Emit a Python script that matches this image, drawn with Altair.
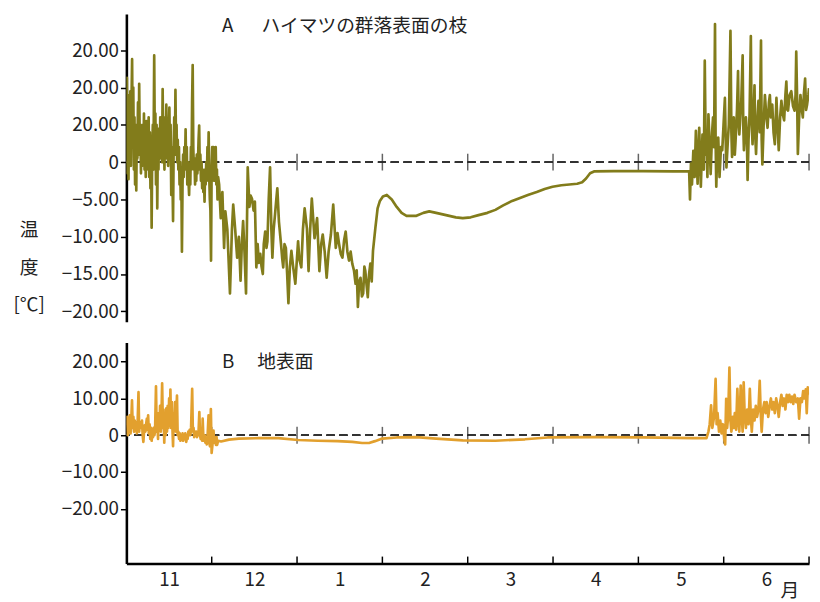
import altair as alt
import pandas as pd

FONT = "Noto Sans CJK JP"

# ---- categories / labels ----
months = ["11", "12", "1", "2", "3", "4", "5", "6"]
month_centers = [0.5, 1.5, 2.5, 3.5, 4.5, 5.5, 6.5, 7.5]
month_bounds = [1, 2, 3, 4, 5, 6, 7, 8]
panel_titles = ["A\u3000\u2002ハイマツの群落表面の枝", "B\u3000 地表面"]
y_title = ["温", "度", "[℃]"]
x_title = "月"

top_ticks = [15, 10, 5, 0, -5, -10, -15, -20]
top_labels = ["20.00", "20.00", "20.00", "0", "−5.00", "−10.00", "−15.00", "−20.00"]
bot_ticks = [20, 10, 0, -10, -20]
bot_labels = ["20.00", "10.00", "0", "−10.00", "−20.00"]

# ---- series: (month position since 1 Nov, temperature °C) ----
branch_nov = [
    (0.000, 3.0), (0.006, 11.3), (0.012, -1.5), (0.018, 9.0), (0.025, -2.3), (0.032, 7.0), (0.039, 1.0),
    (0.046, 9.5), (0.053, -0.5), (0.060, 8.0), (0.067, 13.8), (0.074, 2.0), (0.081, 10.0), (0.088, -1.0),
    (0.095, 6.0), (0.102, -3.0), (0.109, 4.0), (0.116, -3.8), (0.123, 5.0), (0.129, 0.5), (0.136, 8.0),
    (0.143, 1.0), (0.150, 10.5), (0.157, 2.0), (0.164, 5.0), (0.171, -1.5), (0.178, 3.5), (0.185, -0.5),
    (0.192, 5.0), (0.199, 0.0), (0.206, 6.5), (0.213, -1.0), (0.220, 4.0), (0.227, -2.0), (0.234, 5.5),
    (0.240, -1.0), (0.247, 3.0), (0.254, 0.0), (0.261, 6.0), (0.268, -2.0), (0.275, 4.0), (0.282, -3.5),
    (0.289, 3.0), (0.296, -8.8), (0.303, 2.0), (0.310, 5.0), (0.317, -1.0), (0.326, 14.3), (0.333, 3.0),
    (0.340, 6.5), (0.347, -3.0), (0.354, 5.0), (0.362, -6.2), (0.369, 3.0), (0.376, -1.0), (0.383, 4.5),
    (0.390, 0.5), (0.397, 6.0), (0.403, 1.0), (0.410, 5.0), (0.418, 0.0), (0.425, 9.8), (0.432, 2.0),
    (0.439, 6.0), (0.446, -1.0), (0.453, 5.0), (0.460, 0.5), (0.468, 7.7), (0.475, 1.0), (0.482, 5.5),
    (0.489, -0.5), (0.497, 4.0), (0.504, 7.3), (0.511, 1.0), (0.518, 5.0), (0.526, -4.4), (0.533, 2.0),
    (0.540, -2.0), (0.547, -7.9), (0.554, 2.0), (0.561, 6.0), (0.568, 1.0), (0.575, 9.7), (0.582, 2.0),
    (0.588, 5.0), (0.595, 0.0), (0.602, 3.0), (0.609, -1.0), (0.616, 2.0), (0.623, -3.0), (0.630, 0.0),
    (0.637, -5.0), (0.644, -2.0), (0.651, -12.0), (0.658, -3.0), (0.665, 1.0), (0.672, -2.0), (0.679, 2.0),
    (0.686, -1.0), (0.694, 4.4), (0.701, -1.0), (0.708, 2.0), (0.714, -3.0), (0.721, 0.0), (0.728, -2.5),
    (0.735, -4.4), (0.742, -1.0), (0.749, -3.0), (0.756, 2.0), (0.763, -1.0), (0.770, 8.0), (0.777, 13.0),
    (0.784, 2.0), (0.791, -1.0), (0.798, 0.5), (0.805, -3.0), (0.812, -1.0), (0.819, -2.5), (0.825, 1.0),
    (0.832, -1.5), (0.839, 0.0), (0.846, 3.0), (0.853, 4.9), (0.860, -1.0), (0.867, 1.0), (0.874, -2.5),
    (0.881, 0.0), (0.888, -3.5), (0.895, -1.0), (0.902, -4.0), (0.909, -2.0), (0.916, -5.3), (0.923, -1.0),
    (0.929, -3.0), (0.936, 0.0), (0.943, -2.5), (0.950, 2.0), (0.957, -1.5), (0.964, 4.0), (0.971, -2.0),
    (0.978, -5.0), (0.985, -6.5), (0.992, -13.2), (0.999, -1.0), (1.006, 2.0), (1.013, 0.0), (1.020, 2.0),
    (1.027, -2.5), (1.034, 1.0), (1.040, -1.5), (1.047, 2.0), (1.054, -3.0), (1.061, -1.0), (1.068, -5.0),
    (1.075, -2.0),
]
branch_dec_jan = [
    (1.087, -3.0), (1.106, -7.5), (1.125, -4.0), (1.145, -11.5), (1.160, -6.6), (1.183, -9.0), (1.214, -17.6),
    (1.237, -9.0), (1.252, -5.7), (1.275, -9.0), (1.298, -12.8), (1.318, -10.0), (1.338, -15.9), (1.353, -11.0),
    (1.368, -7.9), (1.384, -12.0), (1.402, -17.6), (1.422, -0.7), (1.442, -6.0), (1.457, -4.5), (1.472, -4.9),
    (1.491, -6.5), (1.506, -5.3), (1.523, -14.1), (1.538, -11.0), (1.553, -13.5), (1.569, -12.3), (1.584, -14.0),
    (1.599, -15.0), (1.610, -11.0), (1.627, -9.3), (1.642, -11.5), (1.653, -10.6), (1.668, -5.0), (1.684, -0.7),
    (1.699, -9.0), (1.711, -12.8), (1.726, -9.0), (1.742, -7.0), (1.757, -5.0), (1.769, -3.5), (1.788, -8.0),
    (1.812, -11.0), (1.827, -13.0), (1.838, -14.1), (1.853, -11.0), (1.869, -11.5), (1.884, -15.0), (1.899, -18.9),
    (1.916, -14.0), (1.934, -11.9), (1.954, -14.0), (1.980, -16.3), (2.012, -10.6), (2.027, -13.0), (2.050, -14.1),
    (2.069, -9.0), (2.089, -6.2), (2.116, -8.9), (2.135, -14.6), (2.154, -9.0), (2.173, -4.9), (2.205, -10.2),
    (2.235, -7.5), (2.262, -14.6), (2.283, -11.0), (2.301, -9.7), (2.324, -12.0), (2.347, -15.5), (2.370, -12.0),
    (2.397, -9.7), (2.424, -5.7), (2.454, -11.5), (2.474, -9.5), (2.493, -11.0), (2.512, -12.3), (2.532, -12.8),
    (2.551, -10.5), (2.570, -9.3), (2.590, -12.0), (2.609, -13.2), (2.628, -12.0), (2.647, -13.6), (2.667, -14.5),
    (2.686, -16.3), (2.699, -14.5), (2.713, -19.4), (2.728, -16.0), (2.744, -15.5), (2.760, -18.0), (2.775, -17.6),
    (2.789, -14.0), (2.800, -14.6), (2.815, -16.5), (2.829, -18.1), (2.844, -15.0), (2.859, -13.6), (2.875, -16.0),
    (2.890, -11.9), (2.917, -8.9), (2.944, -6.2), (2.971, -5.2),
]
branch_feb_may = [
    (3.006, -4.6), (3.052, -4.4), (3.110, -5.0), (3.168, -6.0), (3.225, -6.8), (3.283, -7.2), (3.399, -7.2),
    (3.480, -6.8), (3.549, -6.6), (3.630, -6.8), (3.746, -7.1), (3.861, -7.4), (3.942, -7.5), (4.035, -7.4),
    (4.127, -7.1), (4.231, -6.8), (4.324, -6.4), (4.416, -5.8), (4.520, -5.2), (4.613, -4.8), (4.705, -4.4),
    (4.809, -4.0), (4.902, -3.6), (4.994, -3.3), (5.098, -3.1), (5.191, -3.0), (5.283, -2.9), (5.341, -2.7),
    (5.387, -2.2), (5.434, -1.5), (5.480, -1.25), (5.711, -1.2), (6.058, -1.2), (6.405, -1.25), (6.595, -1.25),
]
branch_jun = [
    (6.605, -5.0), (6.616, -0.2), (6.628, -3.0), (6.644, 1.5), (6.659, -2.0), (6.674, 4.2), (6.694, -2.9),
    (6.713, 4.6), (6.732, -3.3), (6.751, 3.7), (6.767, -1.0), (6.778, 13.6), (6.790, 1.0), (6.798, 3.5),
    (6.809, -2.0), (6.821, 6.4), (6.836, 2.0), (6.847, -1.6), (6.864, 4.0), (6.875, 6.0), (6.887, 2.0),
    (6.898, 18.5), (6.905, 3.0), (6.913, -3.3), (6.925, 2.0), (6.936, 3.3), (6.951, -2.0), (6.968, 2.0),
    (6.983, 1.6), (6.998, 5.0), (7.014, 8.6), (7.025, 2.0), (7.032, -0.7), (7.049, 3.0), (7.060, 5.0),
    (7.079, 17.6), (7.090, 4.0), (7.098, 0.7), (7.110, 5.0), (7.118, 6.0), (7.130, 1.0), (7.137, 2.4),
    (7.156, 7.0), (7.168, 12.2), (7.176, 5.0), (7.183, 3.7), (7.194, 6.0), (7.206, 8.2), (7.222, 14.3),
    (7.229, 5.0), (7.237, 1.6), (7.249, 4.0), (7.260, 6.0), (7.272, 3.0), (7.280, -2.4), (7.291, 3.0),
    (7.303, 6.4), (7.318, 16.9), (7.326, 6.0), (7.338, 2.4), (7.349, 6.0), (7.361, 10.3), (7.368, 4.0),
    (7.379, 1.1), (7.391, 5.0), (7.407, 8.2), (7.422, 4.0), (7.437, 16.3), (7.445, 3.0), (7.453, -0.3),
    (7.468, 5.0), (7.483, 9.0), (7.500, 6.0), (7.514, 4.6), (7.530, 8.0), (7.541, 9.0), (7.553, 6.0),
    (7.569, 7.7), (7.584, 4.0), (7.599, 2.4), (7.618, 8.6), (7.630, 5.0), (7.645, 1.6), (7.661, 6.0),
    (7.676, 8.2), (7.691, 6.5), (7.708, 5.6), (7.723, 9.0), (7.734, 10.8), (7.746, 7.0), (7.754, 6.9),
    (7.772, 9.0), (7.792, 9.5), (7.812, 7.5), (7.830, 6.9), (7.842, 9.0), (7.850, 14.8), (7.861, 8.0),
    (7.869, 1.1), (7.884, 6.0), (7.899, 9.0), (7.916, 7.0), (7.927, 6.0), (7.939, 9.0), (7.954, 11.2),
    (7.965, 7.0), (7.977, 7.7), (7.992, 9.0), (8.000, 9.9),
]

ground_nov = [
    (0.000, 3.0), (0.008, 5.0), (0.016, 0.0), (0.024, 4.5), (0.032, 1.0), (0.040, 5.4), (0.049, 0.5),
    (0.057, 4.0), (0.066, 9.5), (0.074, 2.0), (0.082, 5.0), (0.090, 1.0), (0.098, 4.0), (0.106, 2.0),
    (0.114, 3.5), (0.123, 0.5), (0.130, 2.0), (0.142, 11.7), (0.150, 1.0), (0.158, 3.0), (0.166, 3.5),
    (0.175, 2.0), (0.183, 4.0), (0.191, 0.0), (0.199, -1.8), (0.207, 1.0), (0.215, 2.7), (0.223, 1.0),
    (0.231, 3.0), (0.240, 4.5), (0.247, 1.5), (0.255, 5.4), (0.263, 0.5), (0.272, 3.0), (0.280, -1.0),
    (0.288, 2.0), (0.296, -1.5), (0.304, 0.5), (0.312, -0.5), (0.320, 2.0), (0.328, 0.0), (0.336, 1.0),
    (0.347, 13.3), (0.355, 1.0), (0.363, 4.0), (0.371, -1.0), (0.379, 6.0), (0.387, 2.0), (0.395, 8.0),
    (0.403, 1.0), (0.411, 5.0), (0.419, 14.1), (0.428, 2.0), (0.435, 7.0), (0.444, -2.0), (0.452, 6.0),
    (0.460, 0.0), (0.468, 7.3), (0.476, 1.0), (0.484, 8.0), (0.492, 2.0), (0.501, 10.0), (0.509, 3.0),
    (0.516, 12.4), (0.524, 2.0), (0.533, 9.0), (0.541, 1.0), (0.547, -3.0), (0.555, 6.0), (0.563, 2.0),
    (0.571, 9.0), (0.579, 1.0), (0.587, 7.0), (0.593, 10.8), (0.601, 0.0), (0.609, 1.0), (0.617, -1.0),
    (0.625, 0.5), (0.634, -1.5), (0.642, 0.0), (0.650, -1.0), (0.658, 0.5), (0.666, -1.5), (0.674, 0.0),
    (0.682, -1.0), (0.690, 0.5), (0.702, -1.8), (0.710, 0.0), (0.718, -1.0), (0.726, 1.0), (0.734, 0.0),
    (0.742, 1.5), (0.750, 0.0), (0.758, 2.0), (0.771, 12.6), (0.779, 1.0), (0.787, 2.0), (0.795, -0.5),
    (0.803, 1.0), (0.812, 0.0), (0.820, 1.0), (0.828, -0.5), (0.836, 0.5), (0.844, 0.0), (0.855, 6.3),
    (0.863, 0.0), (0.871, -1.0), (0.879, 0.0), (0.888, -1.5), (0.894, 4.5), (0.902, -0.5), (0.910, -1.5),
    (0.918, 0.0), (0.926, -2.0), (0.934, -1.0), (0.942, -2.5), (0.950, -1.0), (0.963, 5.4), (0.971, -2.0),
    (0.979, -3.0), (0.990, 7.1), (0.999, -4.8), (1.007, -3.0), (1.015, -1.0), (1.021, 1.3), (1.029, -2.0),
    (1.037, -0.5), (1.049, -2.6), (1.057, -0.5), (1.064, -2.6), (1.075, -1.5),
]
ground_winter = [
    (1.110, -1.7), (1.202, -1.2), (1.318, -0.9), (1.549, -0.8), (1.780, -0.8), (2.012, -1.3), (2.243, -1.5),
    (2.474, -1.6), (2.647, -1.8), (2.763, -2.1), (2.844, -2.1), (2.913, -1.6), (3.000, -0.9), (3.168, -0.6),
    (3.399, -0.5), (3.630, -0.9), (3.942, -1.4), (4.324, -1.5), (4.671, -1.1), (4.936, -0.6), (5.480, -0.5),
    (6.058, -0.6), (6.636, -0.8), (6.798, -0.8),
]
ground_jun = [
    (6.821, 1.0), (6.836, 3.0), (6.852, 8.1), (6.867, 2.0), (6.887, 5.0), (6.905, 15.3), (6.917, 3.0),
    (6.928, 6.0), (6.945, 1.0), (6.960, 4.0), (6.975, 0.5), (6.991, 3.0), (7.006, -1.0), (7.017, -2.5),
    (7.029, 9.9), (7.040, 2.0), (7.052, 5.0), (7.067, 18.4), (7.079, 4.0), (7.090, 1.0), (7.106, 5.0),
    (7.118, 2.0), (7.130, 6.0), (7.145, 1.5), (7.160, 12.6), (7.172, 4.0), (7.183, 1.0), (7.199, 13.5),
    (7.211, 5.0), (7.222, 1.0), (7.234, 14.4), (7.245, 6.0), (7.260, 2.0), (7.275, 7.0), (7.291, 3.0),
    (7.306, 12.6), (7.318, 5.0), (7.329, 1.0), (7.345, 7.0), (7.361, 4.0), (7.376, 8.0), (7.391, 5.0),
    (7.407, 7.0), (7.422, 14.8), (7.434, 6.0), (7.445, 1.0), (7.460, 7.0), (7.476, 9.0), (7.491, 6.0),
    (7.503, 9.0), (7.522, 5.0), (7.538, 8.0), (7.553, 10.0), (7.569, 7.0), (7.584, 9.0), (7.599, 6.0),
    (7.615, 10.0), (7.630, 8.0), (7.645, 5.0), (7.661, 9.0), (7.676, 11.0), (7.691, 8.0), (7.708, 10.0),
    (7.723, 7.0), (7.738, 11.0), (7.754, 9.0), (7.769, 11.0), (7.784, 9.0), (7.800, 10.5), (7.815, 8.5),
    (7.830, 11.0), (7.850, 9.0), (7.869, 10.0), (7.884, 4.5), (7.899, 10.0), (7.916, 9.0), (7.931, 12.0),
    (7.946, 10.0), (7.962, 12.5), (7.973, 6.0), (7.985, 13.0), (7.997, 11.0),
]

BRANCH_COLOR = "#827c1b"
GROUND_COLOR = "#e2a02e"
INK = "#222222"


def frame(*segments):
    rows = [p for seg in segments for p in seg]
    return pd.DataFrame({"t": [r[0] for r in rows], "v": [r[1] for r in rows], "i": list(range(len(rows)))})


def label_expr(vals, labs):
    parts = [f"datum.value == {v} ? '{l}'" for v, l in zip(vals, labs)]
    return " : ".join(parts) + " : ''"


branch_df = frame(branch_nov, branch_dec_jan, branch_feb_may, branch_jun)
ground_df = frame(ground_nov, ground_winter, ground_jun)
bounds_df = pd.DataFrame({"t": month_bounds, "v": [0] * len(month_bounds)})

W = 692
H_TOP = 312
H_BOT = 224
x_scale = alt.Scale(domain=[0, 8], nice=False, zero=False)


def panel(df, color, y_domain, ticks, labels, title_text, title_y, height, bottom):
    y_axis_kwargs = dict(
        values=ticks, labelExpr=label_expr(ticks, labels), title=None,
        domainColor="black", domainWidth=2.6, tickColor="black", tickWidth=1.5, tickSize=6,
        labelPadding=2, labelFont=FONT, labelFontSize=19, labelColor=INK, grid=False,
    )
    if not bottom:
        y_axis_kwargs.update(
            title=y_title, titleAngle=0, titleAlign="center", titleBaseline="top",
            titleX=-99, titleY=210, titleLineHeight=38, titleFont=FONT, titleFontSize=19,
            titleFontWeight="normal", titleColor=INK,
        )
    y_scale = alt.Scale(domain=y_domain, nice=False, zero=False)
    if bottom:
        x_axis = alt.Axis(
            values=month_centers, labelExpr=label_expr(month_centers, months), ticks=False, tickSize=0,
            domainColor="black", domainWidth=2.6, labelPadding=7, labelFont=FONT, labelFontSize=19,
            labelColor=INK, grid=False, title=x_title, titleX=672, titleY=27, titleAlign="center",
            titleBaseline="middle", titleFont=FONT, titleFontSize=19, titleFontWeight="normal", titleColor=INK,
        )
    else:
        x_axis = None

    X = alt.X("t:Q", scale=x_scale, axis=x_axis)
    Y = alt.Y("v:Q", scale=y_scale, axis=alt.Axis(**y_axis_kwargs))

    line = alt.Chart(df).mark_line(color=color, strokeWidth=2.7, clip=True, strokeJoin="round").encode(
        x=X, y=Y, order="i:Q",
    )
    zero = alt.Chart(bounds_df).mark_rule(color="#333333", strokeWidth=1.5, strokeDash=[8, 5]).encode(y=Y)
    zero_ticks = alt.Chart(bounds_df).mark_tick(
        orient="vertical", size=17, thickness=1.5, color=INK
    ).encode(x=X, y=Y)
    label = alt.Chart(pd.DataFrame({"label": [title_text]})).mark_text(
        align="left", baseline="middle", font=FONT, fontSize=19, color=INK
    ).encode(text="label:N", x=alt.value(97), y=alt.value(title_y))
    layers = [zero, zero_ticks, line, label]
    if bottom:
        inner_ticks = alt.Chart(bounds_df).mark_rule(color="black", strokeWidth=1.5).encode(
            x=X, y=alt.value(height), y2=alt.value(height - 7)
        )
        layers.append(inner_ticks)
    return alt.layer(*layers).properties(width=W, height=height)


top = panel(branch_df, BRANCH_COLOR, [-21.4, 19.85], top_ticks, top_labels, panel_titles[0], 12, H_TOP, False)
bot = panel(ground_df, GROUND_COLOR, [-34.85, 25.2], bot_ticks, bot_labels, panel_titles[1], 20, H_BOT, True)

chart = alt.vconcat(top, bot, spacing=21).properties(
    padding={"left": 5, "top": 2, "right": 2, "bottom": 2}
).configure_view(stroke=None)

chart.save("out.html", embed_options={"renderer": "svg", "actions": False})
